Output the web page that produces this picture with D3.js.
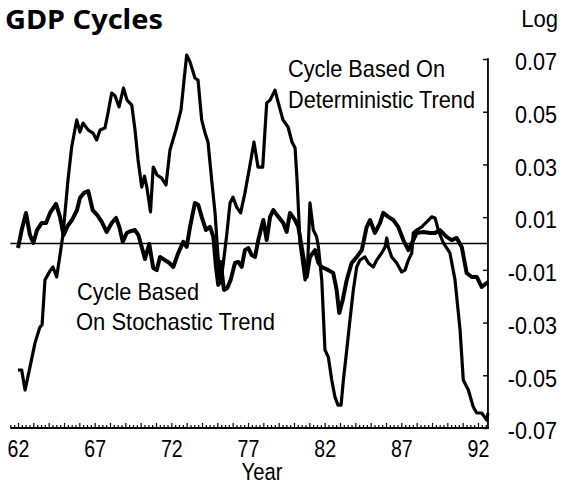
<!DOCTYPE html>
<html><head><meta charset="utf-8">
<script src="https://cdn.jsdelivr.net/npm/d3@7"></script>
<style>html,body{margin:0;padding:0;background:#fff}svg{display:block}</style>
</head><body>
<svg id="chart" width="572" height="495"></svg>
<script>
// ---- data ----
const detYears = [62.00,62.24,62.46,62.78,63.11,63.43,63.57,63.76,64.09,64.28,64.52,64.74,64.93,65.26,65.50,65.83,66.04,66.24,66.57,66.89,67.13,67.35,67.67,67.87,68.11,68.33,68.59,68.88,69.11,69.42,69.63,69.83,70.07,70.25,70.41,70.64,70.82,71.07,71.37,71.65,71.91,72.30,72.63,72.83,73.00,73.22,73.54,73.74,73.98,74.20,74.39,74.65,74.85,75.04,75.22,75.40,75.61,75.83,76.02,76.26,76.52,76.80,77.13,77.39,77.65,77.96,78.22,78.44,78.76,78.96,79.28,79.61,79.87,80.07,80.20,80.39,80.72,80.87,81.04,81.26,81.48,81.59,81.81,81.91,82.02,82.24,82.46,82.67,82.87,83.07,83.22,83.44,83.65,83.87,84.09,84.30,84.63,84.85,85.17,85.39,85.72,85.94,86.05,86.15,86.37,86.70,87.02,87.24,87.46,87.68,87.78,88.00,88.33,88.66,88.98,89.20,89.41,89.74,90.17,90.50,90.83,91.04,91.37,91.69,91.92,92.24,92.57,92.65];
const detValues = [-0.0480,-0.0480,-0.0556,-0.0469,-0.0377,-0.0317,-0.0309,-0.0138,-0.0104,-0.0089,-0.0127,-0.0044,0.0032,0.0241,0.0366,0.0469,0.0423,0.0457,0.0431,0.0419,0.0393,0.0431,0.0438,0.0495,0.0571,0.0560,0.0518,0.0590,0.0544,0.0525,0.0431,0.0317,0.0214,0.0256,0.0211,0.0120,0.0290,0.0260,0.0248,0.0222,0.0355,0.0431,0.0506,0.0620,0.0715,0.0689,0.0628,0.0620,0.0469,0.0419,0.0385,0.0230,0.0116,-0.0044,-0.0150,-0.0070,0.0032,0.0154,0.0176,0.0138,0.0116,0.0192,0.0298,0.0385,0.0290,0.0290,0.0533,0.0544,0.0582,0.0537,0.0469,0.0442,0.0385,0.0362,0.0241,0.0002,-0.0138,-0.0112,0.0154,0.0051,0.0025,-0.0013,-0.0138,-0.0264,-0.0404,-0.0431,-0.0518,-0.0582,-0.0613,-0.0613,-0.0518,-0.0404,-0.0290,-0.0176,-0.0089,-0.0063,-0.0051,-0.0074,-0.0089,-0.0063,-0.0036,-0.0013,0.0021,-0.0013,-0.0051,-0.0074,-0.0108,-0.0101,-0.0063,-0.0036,0.0040,0.0051,0.0063,0.0082,0.0101,0.0097,0.0051,0.0002,-0.0036,-0.0138,-0.0328,-0.0518,-0.0556,-0.0620,-0.0643,-0.0643,-0.0670,-0.0643];

const stoYears = [62.00,62.24,62.52,62.78,63.00,63.24,63.55,63.83,64.09,64.48,64.74,64.97,65.23,65.52,65.85,66.04,66.30,66.58,66.87,67.17,67.46,67.78,68.11,68.39,68.61,68.83,69.09,69.35,69.63,69.85,70.07,70.28,70.56,70.82,71.05,71.26,71.59,71.87,72.13,72.45,72.78,73.00,73.22,73.54,73.76,73.98,74.26,74.52,74.74,74.91,75.06,75.22,75.43,75.65,75.87,76.15,76.37,76.59,76.80,77.02,77.24,77.46,77.67,78.00,78.22,78.44,78.65,78.98,79.30,79.52,79.74,80.07,80.28,80.50,80.72,80.83,81.04,81.37,81.59,81.81,82.24,82.56,82.78,82.95,83.18,83.44,83.76,84.09,84.42,84.74,84.96,85.28,85.61,85.82,86.15,86.48,86.80,87.13,87.46,87.78,88.00,88.43,88.87,89.20,89.52,89.96,90.28,90.61,90.94,91.26,91.59,91.92,92.24,92.57,92.65];
const stoValues = [-0.0017,0.0051,0.0116,0.0032,0.0002,0.0051,0.0078,0.0078,0.0116,0.0150,0.0101,0.0032,0.0066,0.0089,0.0127,0.0173,0.0192,0.0199,0.0127,0.0108,0.0082,0.0044,0.0078,0.0097,0.0063,0.0006,0.0040,0.0047,0.0051,0.0032,-0.0013,-0.0059,-0.0002,-0.0093,-0.0101,-0.0051,-0.0063,-0.0074,-0.0089,-0.0036,0.0006,-0.0013,0.0063,0.0154,0.0146,0.0101,0.0051,0.0063,0.0025,-0.0089,-0.0157,-0.0070,-0.0176,-0.0169,-0.0138,-0.0074,-0.0070,-0.0089,-0.0025,-0.0017,-0.0044,-0.0051,0.0013,0.0089,0.0013,0.0101,0.0127,0.0101,0.0078,0.0044,0.0116,0.0089,0.0063,-0.0013,-0.0089,-0.0127,-0.0051,-0.0025,-0.0074,-0.0089,-0.0101,-0.0112,-0.0176,-0.0264,-0.0214,-0.0138,-0.0074,-0.0051,-0.0025,0.0063,0.0089,0.0040,0.0078,0.0116,0.0101,0.0089,0.0063,0.0013,-0.0025,0.0013,0.0040,0.0044,0.0040,0.0040,0.0051,0.0025,0.0013,0.0021,-0.0013,-0.0112,-0.0127,-0.0127,-0.0165,-0.0150,-0.0146];

const xTickYears  = [62, 67, 72, 77, 82, 87, 92];
const xTickLabels = ["62", "67", "72", "77", "82", "87", "92"];
const yTickValues = [0.07, 0.05, 0.03, 0.01, -0.01, -0.03, -0.05, -0.07];
const yTickLabels = ["0.07", "0.05", "0.03", "0.01", "-0.01", "-0.03", "-0.05", "-0.07"];
const xDomainStart = 61.5, xDomainEnd = 92.65;

// ---- layout ----
const FONT = "'Liberation Sans', Arial, sans-serif";
const svg = d3.select("#chart");
const x = d3.scaleLinear().domain([62, 92]).range([18, 478]);
const y = d3.scaleLinear().domain([-0.07, 0.07]).range([428, 59]);
const xL = x(xDomainStart), xR = x(xDomainEnd);
const yB = y(-0.07), yT = y(0.07);

function squeeze(sel, f) {
  sel.each(function () {
    const w = this.getComputedTextLength();
    d3.select(this).attr("textLength", w * f).attr("lengthAdjust", "spacingAndGlyphs");
  });
}

// zero line
svg.append("line").attr("x1", xL).attr("x2", xR).attr("y1", y(0)).attr("y2", y(0))
  .attr("stroke", "#000").attr("stroke-width", 1.6);

// bottom axis: quarterly minor ticks, yearly taller ticks
const quarters = d3.range(Math.round(xDomainStart * 4), Math.round(92.5 * 4) + 1).map(q => q / 4);
const minorAxis = d3.axisBottom(x).tickValues(quarters.filter(q => q % 1 !== 0)).tickSize(-3).tickFormat("").tickSizeOuter(0);
const majorAxis = d3.axisBottom(x).tickValues(quarters.filter(q => q % 1 === 0)).tickSize(-5).tickFormat("").tickSizeOuter(0);
const gMin = svg.append("g").attr("transform", `translate(0,${yB})`).call(minorAxis);
const gMaj = svg.append("g").attr("transform", `translate(0,${yB})`).call(majorAxis);
[gMin, gMaj].forEach(g => {
  g.select(".domain").remove();
  g.selectAll(".tick line").attr("stroke", "#000").attr("stroke-width", 1.2);
});
svg.append("line").attr("x1", xL).attr("x2", xR + 1).attr("y1", yB).attr("y2", yB)
  .attr("stroke", "#000").attr("stroke-width", 1.8);

// bottom labels
const labAxis = d3.axisBottom(x).tickValues(xTickYears).tickSize(0).tickPadding(0)
  .tickFormat((d, i) => xTickLabels[i]);
const gLab = svg.append("g").attr("transform", `translate(0,${yB})`).call(labAxis);
gLab.select(".domain").remove();
gLab.selectAll("text").attr("font-family", FONT).attr("font-size", 23).attr("fill", "#000")
  .attr("dy", null).attr("y", 29).call(squeeze, 0.85);

// right axis
const yAxis = d3.axisRight(y).tickValues(yTickValues).tickSize(-5).tickSizeOuter(0)
  .tickFormat((d, i) => yTickLabels[i]);
const gY = svg.append("g").attr("transform", `translate(${xR},0)`).call(yAxis);
gY.select(".domain").remove();
gY.selectAll(".tick line").attr("stroke", "#000").attr("stroke-width", 1.4);
gY.selectAll("text").attr("font-family", FONT).attr("font-size", 24).attr("fill", "#000")
  .attr("text-anchor", "end").attr("x", 69).attr("dy", "0.45em").call(squeeze, 0.9);
svg.append("line").attr("x1", xR).attr("x2", xR).attr("y1", yT - 0.7).attr("y2", yB)
  .attr("stroke", "#000").attr("stroke-width", 1.8);

// series
const line = d3.line().x(d => x(d[0])).y(d => y(d[1]));
const detData = detYears.map((yr, i) => [yr, detValues[i]]);
const stoData = stoYears.map((yr, i) => [yr, stoValues[i]]);
svg.append("path").datum(detData).attr("d", line).attr("fill", "none")
  .attr("stroke", "#000").attr("stroke-width", 3.2).attr("stroke-linejoin", "round");
svg.append("path").datum(stoData).attr("d", line).attr("fill", "none")
  .attr("stroke", "#000").attr("stroke-width", 4).attr("stroke-linejoin", "round");

// texts
svg.append("text").attr("x", 5).attr("y", 29).text("GDP Cycles")
  .attr("font-family", "'Noto Sans', sans-serif").attr("font-weight", "bold")
  .attr("font-size", 26).attr("fill", "#000")
  .attr("textLength", 158).attr("lengthAdjust", "spacingAndGlyphs");
svg.append("text").attr("x", 558).attr("y", 27).attr("text-anchor", "end").text("Log")
  .attr("font-family", FONT).attr("font-size", 24).attr("fill", "#000").call(squeeze, 0.92);

const notes = [
  {t: "Cycle Based On", x: 288, y: 77, w: 157},
  {t: "Deterministic Trend", x: 288, y: 108, w: 187},
  {t: "Cycle Based", x: 77, y: 300, w: 122},
  {t: "On Stochastic Trend", x: 76, y: 330, w: 199}
];
notes.forEach(n => {
  svg.append("text").attr("x", n.x).attr("y", n.y).text(n.t)
    .attr("font-family", FONT).attr("font-size", 24).attr("fill", "#000")
    .attr("textLength", n.w).attr("lengthAdjust", "spacingAndGlyphs");
});
svg.append("text").attr("x", 262).attr("y", 480).attr("text-anchor", "middle").text("Year")
  .attr("font-family", FONT).attr("font-size", 23).attr("fill", "#000").call(squeeze, 0.88);
</script>
</body></html>
